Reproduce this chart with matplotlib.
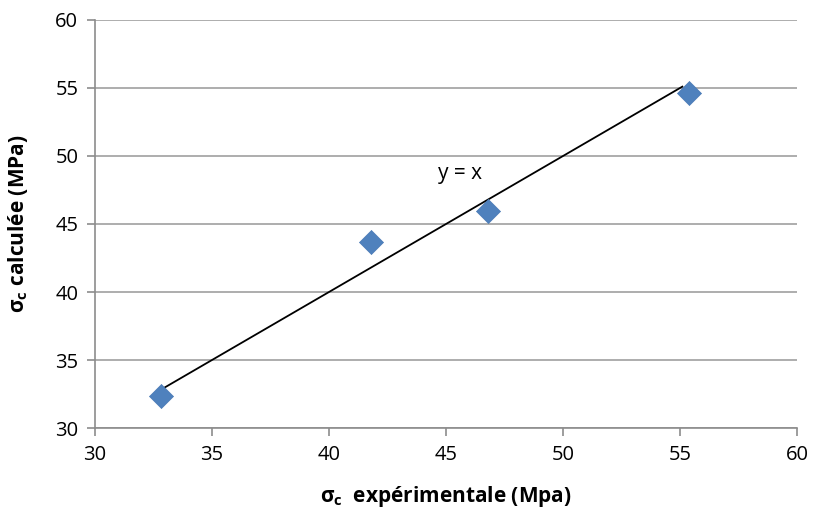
import matplotlib
matplotlib.use("Agg")
import matplotlib.pyplot as plt

# valeurs
sigma_exp = [32.8, 41.8, 46.8, 55.4]
sigma_calc = [32.35, 43.7, 45.95, 54.6]
ligne_x = [32.8, 55.1]

plt.rcParams["font.family"] = ["Open Sans", "DejaVu Sans"]
plt.rcParams["mathtext.fontset"] = "custom"
plt.rcParams["mathtext.rm"] = "Open Sans"
plt.rcParams["mathtext.bf"] = "Open Sans:bold"

fig = plt.figure(figsize=(8.14, 5.19), dpi=100)
ax = fig.add_axes([95 / 814, 91 / 519, 702 / 814, 408 / 519])

ax.plot(ligne_x, ligne_x, color="black", linewidth=1.3, zorder=2)
ax.scatter(sigma_exp, sigma_calc, marker="D", s=150, color="#4f81bd",
           edgecolors="#4a7ab5", linewidths=0.5, zorder=3)
ax.text(45.6, 48.7, "y = x", fontsize=15, ha="center", va="center")

ax.set_xlim(30, 60)
ax.set_ylim(30, 60)
ax.set_xticks(range(30, 61, 5))
ax.set_yticks(range(30, 61, 5))
ax.grid(axis="y", color="#a0a0a0", linewidth=1.2)
ax.set_axisbelow(True)

for side in ["top", "right"]:
    ax.spines[side].set_visible(False)
for side in ["left", "bottom"]:
    ax.spines[side].set_color("#8c8c8c")
    ax.spines[side].set_linewidth(1.2)
ax.tick_params(direction="out", length=6, width=1.2, color="#8c8c8c",
               labelsize=14.5, pad=6)

ax.set_xlabel(r"$\mathbf{\sigma_c}$  expérimentale (Mpa)", fontsize=15,
              fontweight="bold", labelpad=14)
ax.set_ylabel(r"$\mathbf{\sigma_c}$ calculée (MPa)", fontsize=15,
              fontweight="bold", labelpad=18)

fig.savefig("out.png", dpi=100)
